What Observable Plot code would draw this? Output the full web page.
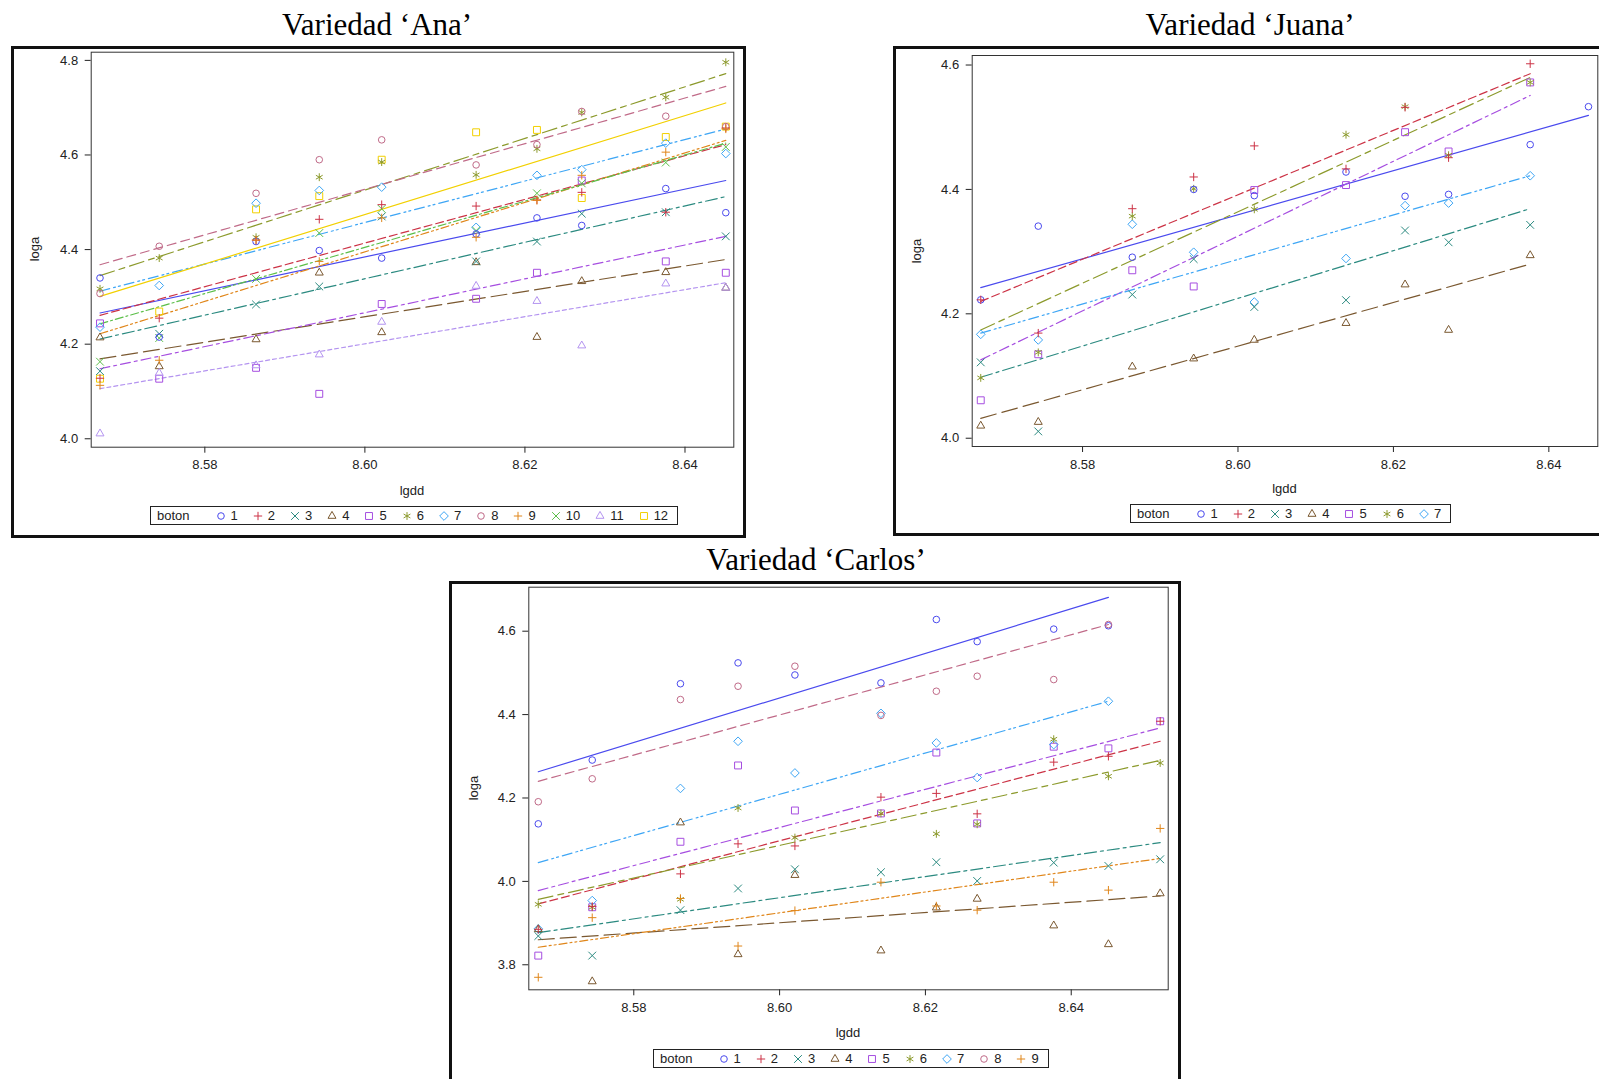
<!DOCTYPE html>
<html><head><meta charset="utf-8">
<script src="https://cdn.jsdelivr.net/npm/d3@7"></script>
<script src="https://cdn.jsdelivr.net/npm/@observablehq/plot@0.6"></script>
<style>
body{margin:0;background:#fff;}
#page{position:relative;width:1599px;height:1079px;overflow:hidden;font-family:"Liberation Sans",Arial,sans-serif;color:#222;}
.box{position:absolute;border:3px solid #111;box-sizing:border-box;}
.title{position:absolute;font-family:"Liberation Serif","Times New Roman",serif;font-size:31px;line-height:31px;white-space:nowrap;transform:translateX(-50%);color:#000;}
.chart{position:absolute;}
.lab{position:absolute;font-size:13px;white-space:nowrap;line-height:13px;}
.legend{position:absolute;display:flex;align-items:center;height:19px;box-sizing:border-box;border:1px solid #222;padding:0 9px 0 6px;font-size:13px;background:#fff;white-space:nowrap;}
.legend .hd{margin-right:26px;}
.legend svg{margin-right:5px;overflow:visible;}
.legend .it{margin-right:15px;}
.legend .it:last-child{margin-right:0;}
</style></head>
<body><div id="page"></div>
<script>
// ---------- data ----------
const lgdd = [8.5669, 8.5743, 8.5864, 8.5943, 8.6021, 8.6139, 8.6215, 8.6271, 8.6376, 8.6451, 8.6522];
const botonLabels = ["1","2","3","4","5","6","7","8","9","10","11","12"];

const anaLoga = [
  [4.340, 4.215, 4.417, 4.398, 4.382, 4.433, 4.467, 4.451, 4.529, 4.478],
  [4.128, 4.255, 4.420, 4.464, 4.495, 4.492, 4.505, 4.521, 4.479, 4.657],
  [4.143, 4.222, 4.284, 4.322, 4.470, 4.375, 4.417, 4.476, 4.479, 4.428],
  [4.214, 4.153, 4.210, 4.351, 4.225, 4.373, 4.215, 4.333, 4.352, 4.319],
  [4.244, 4.127, 4.150, 4.095, 4.285, 4.296, 4.351, 4.546, 4.375, 4.351],
  [4.317, 4.382, 4.426, 4.553, 4.585, 4.558, 4.613, 4.690, 4.722, 4.796],
  [4.236, 4.324, 4.498, 4.525, 4.532, 4.447, 4.557, 4.569, 4.625, 4.603],
  [4.307, 4.407, 4.519, 4.590, 4.632, 4.579, 4.622, 4.692, 4.682, 4.660],
  [4.113, 4.166, 4.420, 4.375, 4.467, 4.426, 4.504, 4.557, 4.606, 4.655],
  [4.163, 4.213, 4.338, 4.435, 4.486, 4.440, 4.519, 4.540, 4.584, 4.617],
  [4.011, 4.139, 4.155, 4.178, 4.247, 4.323, 4.291, 4.197, 4.328, 4.319],
  [4.127, 4.269, 4.485, 4.513, 4.590, 4.648, 4.653, 4.509, 4.638, 4.660]
];
const anaFitStart = [4.266, 4.261, 4.211, 4.169, 4.148, 4.345, 4.312, 4.368, 4.222, 4.243, 4.106, 4.301];
const anaFitEnd   = [4.546, 4.622, 4.512, 4.379, 4.428, 4.772, 4.655, 4.745, 4.631, 4.625, 4.330, 4.710];

const juanaLoga = [
  [4.2225, 4.341, 4.291, 4.400, 4.390, 4.428, 4.389, 4.392, 4.472, 4.533],
  [4.2225, 4.169, 4.369, 4.420, 4.470, 4.433, 4.532, 4.451, 4.602],
  [4.122, 4.011, 4.231, 4.288, 4.211, 4.222, 4.334, 4.315, 4.343],
  [4.020, 4.026, 4.115, 4.128, 4.158, 4.185, 4.247, 4.174, 4.294],
  [4.061, 4.135, 4.270, 4.244, 4.399, 4.407, 4.492, 4.461, 4.572],
  [4.097, 4.138, 4.357, 4.401, 4.368, 4.488, 4.533, 4.455, 4.572],
  [4.167, 4.158, 4.344, 4.299, 4.219, 4.289, 4.374, 4.378, 4.422]
];
const juanaFitStart = [4.242, 4.220, 4.098, 4.032, 4.126, 4.174, 4.169];
const juanaFitEnd   = [4.519, 4.586, 4.369, 4.280, 4.551, 4.580, 4.422];

const carlosLoga = [
  [4.138, 4.291, 4.474, 4.524, 4.495, 4.476, 4.628, 4.575, 4.605, 4.613],
  [3.885, 3.940, 4.018, 4.090, 4.085, 4.202, 4.211, 4.162, 4.286, 4.300, 4.384],
  [3.869, 3.822, 3.931, 3.983, 4.029, 4.022, 4.046, 4.001, 4.045, 4.037, 4.053],
  [3.885, 3.760, 4.141, 3.825, 4.015, 3.834, 3.937, 3.958, 3.894, 3.849, 3.971],
  [3.822, 3.938, 4.095, 4.278, 4.170, 4.163, 4.309, 4.139, 4.323, 4.319, 4.384],
  [3.945, 3.938, 3.957, 4.176, 4.105, 4.163, 4.114, 4.137, 4.341, 4.252, 4.284],
  [3.886, 3.954, 4.223, 4.336, 4.260, 4.403, 4.332, 4.249, 4.328, 4.432],
  [4.191, 4.246, 4.436, 4.468, 4.516, 4.398, 4.456, 4.492, 4.484, 4.616],
  [3.770, 3.913, 3.959, 3.845, 3.930, 3.998, 3.941, 3.931, 3.998, 3.979, 4.127]
];
const carlosFitStart = [4.263, 3.946, 3.877, 3.860, 3.978, 3.957, 4.045, 4.240, 3.842];
const carlosFitEnd   = [4.681, 4.336, 4.093, 3.965, 4.368, 4.290, 4.432, 4.616, 4.055];

const xTicks = [8.58, 8.60, 8.62, 8.64];
const anaYTicks = [4.0, 4.2, 4.4, 4.6, 4.8];
const juanaYTicks = [4.0, 4.2, 4.4, 4.6];
const carlosYTicks = [3.8, 4.0, 4.2, 4.4, 4.6];

// ---------- styles ----------
const colors = ["#4a4aee", "#cc3346", "#2b8a80", "#7a5830", "#a64ee0", "#8c9a2c", "#3ea6f5", "#c06a88", "#e0861a", "#5cbf4a", "#b494f0", "#f2d000"];
const symbols = ["circle", "plus", "times", "triangle2", "square2", "asterisk", "diamond2", "circle", "plus", "times", "triangle2", "square2"];
const dashes = [null, "8,4", "12,4,3,4", "16,6", "10,4,3,4", "15,5,6,5", "10,4,2,3,2,4", "9,5", "8,3,2,3,2,3", "8,3,2,3", "4,3", null];
const d3sym = {circle: d3.symbolCircle, plus: d3.symbolPlus, times: d3.symbolTimes, triangle2: d3.symbolTriangle2,
  square2: d3.symbolSquare2, asterisk: d3.symbolAsterisk, diamond2: d3.symbolDiamond2};
const symR = {circle: 3.3, plus: 2.8, times: 3.6, triangle2: 3.8, square2: 4.4, asterisk: 3.7, diamond2: 3.9};
const font = '"Liberation Sans", Arial, sans-serif';

const page = document.getElementById("page");
function el(cls, css, html) {
  const d = document.createElement("div");
  d.className = cls;
  Object.assign(d.style, css);
  if (html != null) d.innerHTML = html;
  page.appendChild(d);
  return d;
}

function makePanel(cfg) {
  const n = cfg.loga.length;
  const doms = botonLabels.slice(0, n);
  const points = [];
  cfg.loga.forEach((arr, i) => arr.forEach((v, j) => points.push({lgdd: lgdd[j], loga: v, boton: botonLabels[i], idx: i})));
  const lineMarks = cfg.loga.map((arr, i) => Plot.line(
    [{lgdd: lgdd[0], loga: cfg.fitStart[i], boton: botonLabels[i]},
     {lgdd: lgdd[arr.length - 1], loga: cfg.fitEnd[i], boton: botonLabels[i]}],
    {x: "lgdd", y: "loga", stroke: "boton", strokeWidth: 1.2, strokeDasharray: dashes[i] || undefined}));
  const chart = Plot.plot({
    width: cfg.width, height: cfg.height,
    marginLeft: cfg.ml, marginRight: cfg.mr, marginTop: cfg.mt, marginBottom: cfg.mb,
    x: {domain: cfg.xDomain, ticks: xTicks, tickFormat: d3.format(".2f"), label: null, tickSize: 6, tickPadding: 7},
    y: {domain: cfg.yDomain, ticks: cfg.yTicks, tickFormat: d3.format(".1f"), label: null, tickSize: 6, tickPadding: 7},
    color: {type: "ordinal", domain: doms, range: colors.slice(0, n)},
    symbol: {domain: doms, range: symbols.slice(0, n)},
    r: {type: "identity"},
    style: {background: "transparent", fontSize: "13px", fontFamily: font, color: "#222", overflow: "visible"},
    marks: [
      Plot.frame({stroke: "#333", strokeWidth: 1}),
      ...lineMarks,
      Plot.dot(points, {x: "lgdd", y: "loga", stroke: "boton", symbol: "boton", r: d => symR[symbols[d.idx]], strokeWidth: 1})
    ]
  });
  const holder = el("chart", {left: cfg.left + "px", top: cfg.top + "px", width: cfg.width + "px", height: cfg.height + "px"});
  holder.appendChild(chart);

  // legend
  const lg = el("legend", {left: cfg.legLeft + "px", top: cfg.legTop + "px"});
  const hd = document.createElement("span"); hd.className = "hd"; hd.textContent = "boton"; lg.appendChild(hd);
  doms.forEach((b, i) => {
    const it = document.createElement("span"); it.className = "it";
    it.style.display = "inline-flex"; it.style.alignItems = "center";
    const s = d3.create("svg").attr("width", 10).attr("height", 10).attr("viewBox", "-5 -5 10 10");
    const rr = symR[symbols[i]];
    s.append("path").attr("d", d3.symbol(d3sym[symbols[i]], Math.PI * rr * rr)()).attr("fill", "none")
      .attr("stroke", colors[i]).attr("stroke-width", 1);
    it.appendChild(s.node());
    const t = document.createElement("span"); t.textContent = b; it.appendChild(t);
    lg.appendChild(it);
  });
  // axis labels
  el("lab", {left: cfg.xLab[0] + "px", top: cfg.xLab[1] + "px", transform: "translate(-50%,-50%)"}, "lgdd");
  el("lab", {left: cfg.yLab[0] + "px", top: cfg.yLab[1] + "px", transform: "translate(-50%,-50%) rotate(-90deg)"}, "loga");
}

// boxes and titles
el("box", {left: "11px", top: "46px", width: "735px", height: "492px"});
el("box", {left: "893px", top: "46px", width: "720px", height: "490px"});
el("box", {left: "449px", top: "581px", width: "732px", height: "520px"});
el("title", {left: "377px", top: "9px"}, "Variedad ‘Ana’");
el("title", {left: "1250px", top: "9px"}, "Variedad ‘Juana’");
el("title", {left: "816px", top: "544px"}, "Variedad ‘Carlos’");

makePanel({loga: anaLoga, fitStart: anaFitStart, fitEnd: anaFitEnd, yTicks: anaYTicks,
  xDomain: [8.5658, 8.6461], yDomain: [3.9822, 4.8173],
  left: 0, top: 0, width: 760, height: 500, ml: 90.7, mr: 26.7, mt: 51.7, mb: 53.3,
  legLeft: 150, legTop: 506, xLab: [412, 490], yLab: [34, 249]});

makePanel({loga: juanaLoga, fitStart: juanaFitStart, fitEnd: juanaFitEnd, yTicks: juanaYTicks,
  xDomain: [8.5658, 8.6463], yDomain: [3.9867, 4.6153],
  left: 880, top: 0, width: 719, height: 500, ml: 91.7, mr: 1.7, mt: 55, mb: 54,
  legLeft: 1130, legTop: 504, xLab: [1284.5, 488], yLab: [916, 250.5]});

makePanel({loga: carlosLoga, fitStart: carlosFitStart, fitEnd: carlosFitEnd, yTicks: carlosYTicks,
  xDomain: [8.5656, 8.6533], yDomain: [3.740, 4.7055],
  left: 440, top: 560, width: 750, height: 490, ml: 88.3, mr: 22.3, mt: 26.7, mb: 60.7,
  legLeft: 653, legTop: 1049, xLab: [848, 1032], yLab: [473, 788]});
</script>
</body></html>
